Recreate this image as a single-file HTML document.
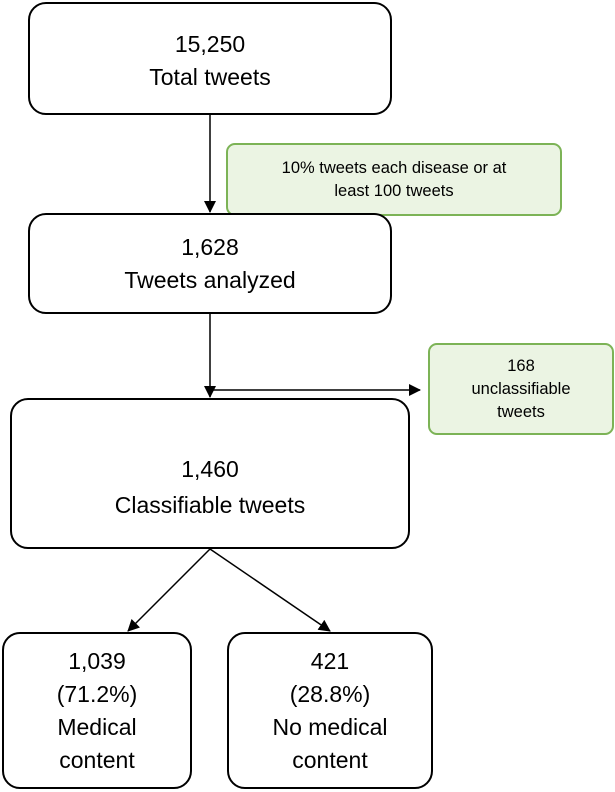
<!DOCTYPE html>
<html><head><meta charset="utf-8"><style>
body{margin:0;width:615px;height:792px;background:#fff;position:relative;overflow:hidden;font-family:"Liberation Sans",sans-serif}
.b{position:absolute;box-sizing:border-box;border:2px solid #000;border-radius:18px;background:#fff;display:flex;flex-direction:column;justify-content:center;align-items:center;text-align:center;font-size:23px;line-height:33px;color:#000}
.g{position:absolute;box-sizing:border-box;border:2px solid #7cb356;border-radius:9px;background:#ebf4e3;display:flex;flex-direction:column;justify-content:center;align-items:center;text-align:center;font-size:16.5px;line-height:23px;color:#000}
svg{position:absolute;left:0;top:0}
</style></head><body>
<svg width="615" height="792">
<defs><marker id="a" markerWidth="12" markerHeight="12" refX="11" refY="6" orient="auto" markerUnits="userSpaceOnUse"><path d="M0,0 L12,6 L0,12 z" fill="#000"/></marker></defs>
<g stroke="#000" stroke-width="1.5" fill="none">
<line x1="210" y1="115" x2="210" y2="212" marker-end="url(#a)"/>
<line x1="210" y1="314" x2="210" y2="397" marker-end="url(#a)"/>
<line x1="210" y1="390" x2="420" y2="390" marker-end="url(#a)"/>
<line x1="210" y1="549" x2="128" y2="631" marker-end="url(#a)"/>
<line x1="210" y1="549" x2="330" y2="631" marker-end="url(#a)"/>
</g></svg>
<div class="b" style="left:28px;top:2px;width:364px;height:113px;padding-top:4px">15,250<br>Total tweets</div>
<div class="g" style="left:226px;top:143px;width:336px;height:73px">10% tweets each disease or at<br>least 100 tweets</div>
<div class="b" style="left:28px;top:213px;width:364px;height:101px">1,628<br>Tweets analyzed</div>
<div class="g" style="left:428px;top:343px;width:186px;height:92px">168<br>unclassifiable<br>tweets</div>
<div class="b" style="left:10px;top:398px;width:400px;height:151px;padding-top:26px;line-height:36px">1,460<br>Classifiable tweets</div>
<div class="b" style="left:2px;top:632px;width:190px;height:157px">1,039<br>(71.2%)<br>Medical<br>content</div>
<div class="b" style="left:227px;top:632px;width:206px;height:157px">421<br>(28.8%)<br>No medical<br>content</div>
</body></html>
